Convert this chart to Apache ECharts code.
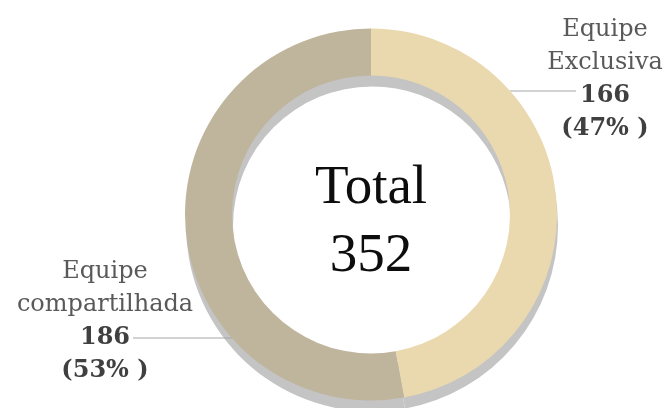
<!DOCTYPE html>
<html>
<head>
<meta charset="utf-8">
<script src="https://cdn.jsdelivr.net/npm/echarts@6/dist/echarts.min.js"></script>
<style>
html,body{margin:0;padding:0;background:#fff;}
#main{width:668px;height:408px;}
</style>
</head>
<body>
<div id="main"></div>
<script>
// ---- data ----
var categories = ['Equipe Exclusiva', 'Equipe compartilhada'];
var values = [166, 186];
var sliceColors = ['#EAD9AE', '#BFB49C'];
var centerTitle = 'Total';

// ---- layout ----
var CX = 371, CY = 214.5, R_IN = 139, R_OUT = 186;
var labelPos = [
  { x: 605, y: 13, lineY: 91, lineEnd: 576, side: 1 },
  { x: 105, y: 255, lineY: 338, lineEnd: 133, side: -1 }
];

var total = values.reduce(function (a, b) { return a + b; }, 0);

var chart = echarts.init(document.getElementById('main'), null, { renderer: 'canvas' });

var pieData = categories.map(function (c, i) {
  return { name: c, value: values[i], itemStyle: { color: sliceColors[i] } };
});
var shadowData = categories.map(function (c, i) {
  return { name: c, value: values[i] };
});

chart.setOption({
  animation: false,
  backgroundColor: '#ffffff',
  series: [
    {
      type: 'pie',
      silent: true,
      z: 1,
      center: [CX + 1, CY + 11],
      radius: [R_IN, R_OUT],
      startAngle: 90,
      clockwise: true,
      label: { show: false },
      labelLine: { show: false },
      itemStyle: { color: '#C4C4C4' },
      data: shadowData
    },
    {
      type: 'pie',
      z: 2,
      center: [CX, CY],
      radius: [R_IN, R_OUT],
      startAngle: 90,
      clockwise: true,
      avoidLabelOverlap: false,
      label: {
        show: true,
        position: 'outside',
        align: 'center',
        formatter: function (p) {
          var pct = Math.round(p.percent);
          return p.name.split(' ').map(function (s) { return '{n|' + s + '}'; }).join('\n') +
            '\n{v|' + p.value + '}\n{v|(' + pct + '% )}';
        },
        rich: {
          n: { fontFamily: 'DejaVu Serif', fontSize: 24, color: '#595959', lineHeight: 33, align: 'center' },
          v: { fontFamily: 'DejaVu Serif', fontSize: 24, fontWeight: 'bold', color: '#404040', lineHeight: 33, align: 'center' }
        }
      },
      labelLine: {
        show: true,
        lineStyle: { color: '#A6A6A6', width: 1 }
      },
      labelLayout: function (p) {
        var L = labelPos[p.dataIndex];
        var dy = L.lineY - CY;
        var ringX = CX + L.side * Math.sqrt(R_OUT * R_OUT - dy * dy);
        return {
          x: L.x,
          y: L.y,
          align: 'center',
          verticalAlign: 'top',
          labelLinePoints: [[ringX, L.lineY], [ringX, L.lineY], [L.lineEnd, L.lineY]]
        };
      },
      emphasis: { disabled: true },
      data: pieData
    }
  ],
  graphic: [
    {
      type: 'text',
      x: CX,
      y: 155,
      z: 10,
      style: {
        text: centerTitle + '\n' + total,
        fontFamily: 'Liberation Serif',
        fontSize: 55,
        lineHeight: 68,
        fill: '#0d0d0d',
        textAlign: 'center',
        textVerticalAlign: 'top'
      }
    }
  ]
});
</script>
</body>
</html>
